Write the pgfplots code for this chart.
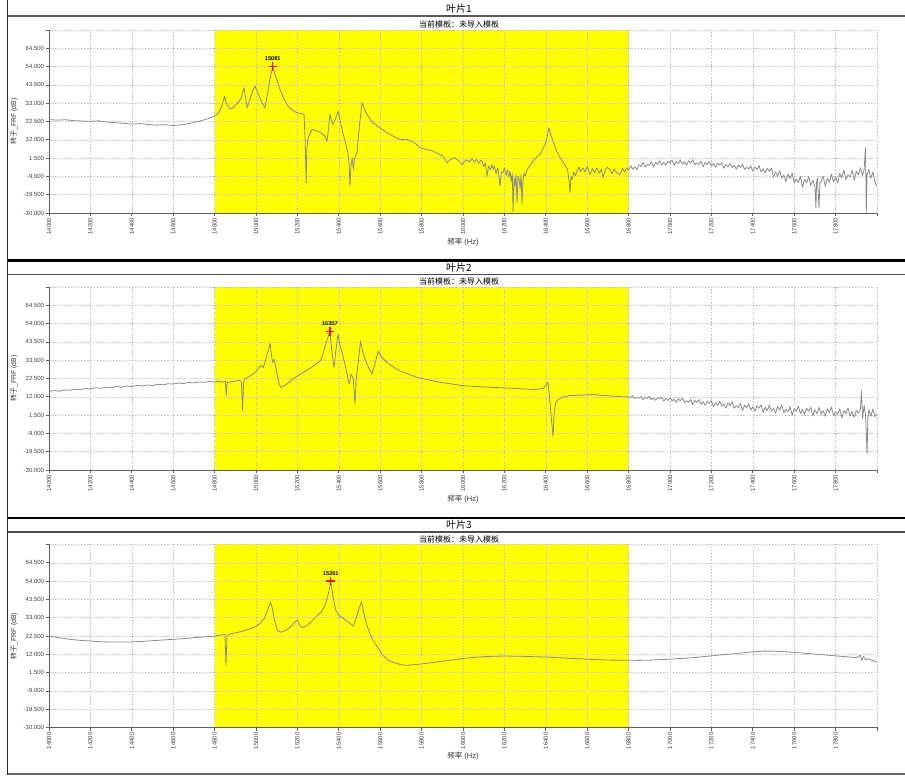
\documentclass[border=0pt]{standalone}
\usepackage{pgfplots}
\pgfplotsset{compat=1.18}
\usepackage{fontspec}
\setmainfont{Liberation Sans}
\newfontfamily\cjk{Noto Sans CJK SC}

\definecolor{curve}{RGB}{138,138,138}
\definecolor{gridc}{RGB}{195,195,195}
\definecolor{axisc}{RGB}{95,95,95}
\definecolor{band}{RGB}{255,255,0}

\newcommand{\tickfont}{\fontsize{4.5}{5}\selectfont\color{black!75}}

\pgfplotsset{
  frfaxis/.style={
    scale only axis,
    width=621pt, height=137.25pt,
    anchor=south west,
    xmin=14000, xmax=18000, ymin=-30, ymax=75,
    axis lines*=left,
    set layers,
    scaled x ticks=false, scaled y ticks=false,
    xtick={14000,14200,...,18000},
    xticklabels={14000,14200,14400,14600,14800,15000,15200,15400,15600,15800,16000,16200,16400,16600,16800,17000,17200,17400,17600,17800,{}},
    ytick={-30,-19.5,-9,1.5,12,22.5,33,43.5,54,64.5,75},
    yticklabels={-30.000,-19.500,-9.000,1.500,12.000,22.500,33.000,43.500,54.000,64.500,{}},
    grid=major,
    major grid style={draw=gridc, line width=0.4pt, dash pattern=on 1.2pt off 1.2pt},
    axis line style={draw=axisc, line width=0.6pt},
    tick style={draw=axisc, line width=0.5pt},
    tick align=outside, major tick length=2.5pt,
    x tick label style={rotate=90, anchor=east, font=\tickfont, inner sep=1pt},
    y tick label style={font=\tickfont, inner sep=1pt},
    xlabel={{\cjk 频率} (Hz)},
    ylabel={{\cjk 转子}\_FRF (dB)},
    x label style={at={(axis description cs:0.5,0)}, anchor=center, yshift=-21.75pt,
      font=\fontsize{5.6}{6}\selectfont\color{black!80}},
    y label style={at={(axis description cs:-0.0423,0.5)}, anchor=center,
      font=\fontsize{5.2}{6}\selectfont\color{black!80}},
  },
  frfline/.style={draw=curve, line width=0.6pt, mark=none, line join=round},
  peakmark/.style={only marks, mark=+, mark size=3.2pt, color=red, mark options={draw=red, line width=0.9pt},
    point meta=explicit symbolic, nodes near coords,
    every node near coord/.style={font=\fontsize{4.2}{5}\selectfont\bfseries, text=black,
      anchor=south, inner sep=0pt, yshift=4pt}},
}

\begin{document}
\begin{tikzpicture}

% ---------- blade 1 ----------
\begin{axis}[frfaxis, at={(36.75pt,-159.75pt)}]
\begin{pgfonlayer}{axis background}
\fill[band] (axis cs:14800,-30) rectangle (axis cs:16800,75);
\end{pgfonlayer}
\addplot[frfline] coordinates {
(14000,23.6) (14040,23.3) (14080,23.5) (14120,23.0) (14160,22.8) (14200,22.6) (14240,22.9) (14280,22.2)
(14320,21.8) (14360,21.5) (14400,21.0) (14440,21.3) (14480,20.8) (14520,20.4) (14560,20.7) (14600,20.2)
(14640,20.6) (14680,21.4) (14720,22.5) (14760,23.8) (14790,25.0)
(14800,25.6) (14820,27.5) (14835,31.5) (14848,36.8) (14860,32) (14875,29.6) (14890,30.5) (14905,32.5)
(14920,34.2) (14930,36.5) (14942,41.8) (14950,36) (14957,30.4) (14970,35) (14985,40.5) (14995,42.8)
(15005,40) (15019,36.1) (15030,33) (15043,30.4) (15055,38) (15068,47) (15081,54.2) (15095,48.5)
(15116,40.9) (15135,35.5) (15155,31.3) (15175,29) (15198,27.5) (15222,27.1) (15232,26.5) (15238,10)
(15242,-12.7) (15245,5) (15250,12.2) (15260,15.5) (15271,17.9) (15285,17.5) (15300,16.9) (15320,15.5)
(15333,14.1) (15343,11.2) (15350,18) (15357,26.5) (15365,23) (15372,20.8) (15385,24.5) (15396,28.4)
(15408,22) (15420,16.0) (15435,9) (15444,4.5) (15450,-2) (15454,-14.6) (15459,-3) (15465,1.7)
(15470,-5.0) (15478,2) (15488,4.7) (15498,18) (15512,33.2) (15530,28) (15550,24) (15565,21.8)
(15600,18.8) (15633,16.0) (15665,14) (15696,12.2) (15725,12.3) (15754,11.2) (15775,9.5) (15792,7.4)
(15820,6.6) (15855,5.5) (15880,4.0) (15903,2.6) (15915,0.5) (15923,-1.2) (15940,0.8) (15961,1.7)
(15980,0) (15995,-2.2) (16015,0.5) (16030,-0.6) (16044,1.1)
(16055,-0.8) (16065,0.9) (16075,-1.5) (16085,0.2) (16092,-0.3) (16100,-3.5) (16108,-1.2) (16116,-8.9)
(16124,-3.0) (16132,-5.5) (16140,-2.2) (16145,-5.0) (16152,-3.2) (16160,-7.5) (16168,-4.0) (16174,-9.0)
(16179,-14.6) (16185,-6.5) (16193,-7.0) (16200,-4.2) (16208,-8.5) (16215,-5.2) (16222,-9.5) (16227,-6.0)
(16233,-12) (16238,-7) (16242,-29) (16247,-10) (16251,-14.6) (16256,-8) (16261,-24) (16266,-9)
(16271,-10.8) (16276,-16) (16281,-8) (16285,-25) (16290,-11) (16295,-7) (16300,-8.9) (16310,-5)
(16320,-3.5) (16330,-1.5) (16338,-0.3) (16350,1.5) (16360,2.5) (16372,3.6) (16385,6.5) (16396,9.3)
(16405,13) (16415,18.9) (16425,14.5) (16435,11.2) (16450,6) (16469,1.7) (16485,-1) (16495,-3.1)
(16505,-5) (16512,-11) (16517,-18.4) (16522,-9) (16527,-10.8) (16535,-6.5) (16543,-8.5) (16551,-6.0)
(16560,-3.5) (16568,-6.2) (16580,-4.1) (16590,-6.5) (16600,-3.2) (16614,-7.9) (16625,-4.5) (16635,-6.8)
(16647,-4.1) (16658,-7.2) (16668,-5) (16676,-9.8) (16686,-5.5) (16697,-3.8) (16710,-5.0) (16720,-7.4)
(16730,-4.8) (16740,-6.6) (16758,-7.9) (16770,-4.3) (16780,-6.5) (16792,-4.1) (16800,-5.5)
(16810,-2.85) (16820,-4.9) (16830,-3.45) (16840,-5.1) (16850,-2.25) (16860,-3.3) (16870,-1.05) (16880,-3.7)
(16890,-2.15) (16900,-2.7) (16910,-0.7) (16920,-3.6) (16930,-1.0) (16940,-2.0) (16950,0.0) (16960,-2.5)
(16970,-0.9) (16980,-2.6) (16990,-0.2) (17000,-1.1) (17010,0.3) (17020,-2.7) (17030,-0.5) (17040,-1.8)
(17050,0.4) (17060,-1.9) (17070,-0.7) (17080,-2.6) (17090,0.0) (17100,-1.3) (17110,0.6) (17120,-2.4)
(17130,-1.2) (17140,-2.1) (17150,-0.3) (17160,-3.4) (17170,-1.0) (17180,-2.2) (17190,-0.4) (17200,-3.1)
(17210,-1.7) (17220,-3.6) (17230,-1.4) (17240,-2.5) (17250,-1.2) (17260,-4.3) (17270,-2.2) (17280,-3.6)
(17290,-1.5) (17300,-3.9) (17310,-2.8) (17320,-4.9) (17330,-2.4) (17340,-3.8) (17350,-2.0) (17360,-5.0)
(17370,-3.8) (17380,-4.7) (17390,-3.0) (17400,-6.1) (17410,-3.6) (17420,-5.1) (17430,-2.8) (17440,-6.4)
(17450,-4.6) (17460,-7.1) (17470,-4.3) (17480,-6.1) (17490,-4.2) (17500,-9.5) (17510,-6.4) (17520,-8.9)
(17530,-5.8) (17540,-10.0) (17550,-8.2) (17560,-12.0) (17570,-7.6) (17580,-10.3) (17590,-7.0) (17600,-12.7)
(17610,-10.6) (17620,-12.5) (17630,-9.0) (17640,-15.3) (17650,-10.6) (17660,-12.8) (17670,-9.0) (17680,-14.2)
(17690,-11.2) (17700,-14.8) (17705,-27.0) (17708,-12.0) (17712,-10.2) (17720,-27.0) (17724,-12.5) (17730,-11.95)
(17740,-8.9) (17750,-14.65) (17760,-10.0) (17770,-12.35) (17780,-7.7) (17790,-12.0) (17800,-9.3) (17810,-12.8)
(17820,-7.4) (17830,-9.7) (17840,-5.4) (17850,-10.9) (17860,-8.1) (17870,-9.5) (17880,-5.5) (17890,-11.2)
(17900,-6.0) (17910,-8.0) (17920,-4.0) (17930,-8.5) (17938,-5.0) (17944,7.4) (17946,-6.0) (17948,-30.0)
(17952,-8.0) (17960,-5.0) (17970,-10.0) (17980,-6.5) (17990,-12.0) (18000,-14.6)
};
\addplot[peakmark] coordinates {(15081,54.2) [15081]};
\end{axis}

% ---------- blade 2 ----------
\begin{axis}[frfaxis, at={(36.75pt,-352.5pt)}]
\begin{pgfonlayer}{axis background}
\fill[band] (axis cs:14800,-30) rectangle (axis cs:16800,75);
\end{pgfonlayer}
\addplot[frfline] coordinates {
(14000,15.0) (14025,15.6) (14050,15.2) (14075,16.0) (14100,15.7) (14125,16.4) (14150,16.0) (14175,16.8)
(14200,16.5) (14225,17.2) (14250,16.9) (14275,17.6) (14300,17.3) (14325,17.9) (14350,17.5) (14375,18.2)
(14400,17.9) (14425,18.5) (14450,18.2) (14475,18.8) (14500,18.5) (14525,19.2) (14550,18.9) (14575,19.5)
(14600,19.3) (14625,19.9) (14650,19.6) (14675,20.2) (14700,20.0) (14725,20.5) (14750,20.3) (14775,20.8)
(14800,20.6)
(14820,20.9) (14840,20.4) (14852,20.8) (14856,12.7) (14860,20.2) (14880,20.6) (14900,21.0) (14920,21.5)
(14930,20.5) (14935,4.2) (14940,20.0) (14945,22.2) (14965,23.5) (14985,25.1) (15000,26.5) (15015,28.8)
(15025,29.8) (15035,28.8) (15045,32.5) (15058,38.0) (15068,42.7) (15075,36) (15080,31.7) (15088,33.6)
(15100,26) (15110,20) (15120,17.4) (15135,18.2) (15150,19.4) (15180,22.5) (15210,24.5) (15240,26.9)
(15270,29.0) (15290,30.8) (15305,32.0) (15315,33.5) (15325,37.4) (15340,43.5) (15357,49.6) (15365,40)
(15372,33) (15378,28.8) (15385,38) (15396,47.8) (15405,42) (15420,35.5) (15435,28) (15445,22)
(15451,19.4) (15460,25.1) (15470,22) (15478,8.0) (15484,22.2) (15495,33) (15505,44.0) (15515,38)
(15530,32.6) (15545,28.5) (15560,25.1) (15575,31) (15590,38.3) (15605,35) (15633,31.7) (15665,29)
(15696,26.9) (15740,24.8) (15780,23.1) (15830,21.8) (15890,20.3) (15950,19.3) (16000,18.4) (16050,18.0)
(16100,17.7) (16150,17.4) (16200,17.1) (16250,16.8) (16300,16.5) (16350,16.2) (16390,17.0) (16405,19.5)
(16410,20.3) (16418,12) (16428,-2) (16435,-10.6) (16440,2) (16447,8.5) (16455,9.9) (16480,11.8)
(16517,12.7) (16560,12.9) (16628,13.3) (16700,12.6) (16750,12.2) (16800,11.9)
(16810,11.68) (16820,12.66) (16830,11.04) (16840,11.68) (16850,11.15) (16860,12.19) (16870,10.32) (16880,11.77)
(16890,11.02) (16900,12.18) (16910,10.4) (16920,11.33) (16930,10.02) (16940,11.56) (16950,10.78) (16960,11.74)
(16970,9.43) (16980,11.03) (16990,9.94) (17000,11.62) (17010,9.66) (17020,10.53) (17030,8.82) (17040,10.92)
(17050,9.69) (17060,11.35) (17070,8.64) (17080,9.71) (17090,8.86) (17100,10.54) (17110,7.55) (17120,9.87)
(17130,8.67) (17140,10.48) (17150,7.72) (17160,9.16) (17170,7.15) (17180,9.48) (17190,8.3) (17200,9.73)
(17210,6.28) (17220,8.62) (17230,7.01) (17240,9.42) (17250,6.62) (17260,7.91) (17270,5.5) (17280,8.52)
(17290,6.81) (17300,9.18) (17310,5.41) (17320,6.93) (17330,5.77) (17340,8.12) (17350,4.04) (17360,7.24)
(17370,5.64) (17380,8.11) (17390,4.41) (17400,6.36) (17410,3.75) (17420,6.93) (17430,5.44) (17440,7.37)
(17450,2.97) (17460,6.08) (17470,4.1) (17480,7.27) (17490,3.79) (17500,5.5) (17510,2.56) (17520,6.42)
(17530,4.37) (17540,7.37) (17550,2.82) (17560,4.76) (17570,3.43) (17580,6.35) (17590,1.52) (17600,5.42)
(17610,3.61) (17620,6.6) (17630,2.36) (17640,4.73) (17650,1.75) (17660,5.44) (17670,3.76) (17680,5.99)
(17690,1.01) (17700,4.58) (17710,2.38) (17720,5.96) (17730,2.09) (17740,4.03) (17750,0.8) (17760,5.1)
(17770,2.86) (17780,6.18) (17790,1.23) (17800,3.37) (17810,1.97) (17820,5.16) (17830,-0.02) (17840,4.22)
(17850,2.29) (17860,5.53) (17870,0.98) (17880,3.54) (17890,0.36) (17900,4.33) (17910,2.53) (17920,4.95)
(17925,15.5) (17930,-0.4) (17938,7.0) (17945,1.0) (17952,-20.5) (17956,0.5) (17960,4.5) (17970,0.8)
(17980,5.0) (17990,0.5) (18000,2.3)
};
\addplot[peakmark] coordinates {(15357,49.6) [15357]};
\end{axis}

% ---------- blade 3 ----------
\begin{axis}[frfaxis, at={(36.75pt,-545.6pt)}]
\begin{pgfonlayer}{axis background}
\fill[band] (axis cs:14800,-30) rectangle (axis cs:16800,75);
\end{pgfonlayer}
\addplot[frfline] coordinates {
(14000,22.4) (14050,21.5) (14100,20.6) (14150,20.0) (14200,19.6) (14250,19.2) (14300,19.0) (14350,19.0)
(14400,19.1) (14450,19.4) (14500,19.8) (14550,20.2) (14600,20.6) (14650,21.0) (14700,21.5) (14750,22.0)
(14800,22.4)
(14820,22.8) (14840,23.2) (14850,23.4) (14855,5.7) (14860,23.0) (14880,23.8) (14900,24.3) (14925,24.9)
(14950,25.8) (14975,26.8) (15000,28.0) (15020,29.8) (15040,32.5) (15055,37) (15070,42.0) (15080,38)
(15090,31) (15105,25.5) (15120,24.7) (15140,25.5) (15160,27.0) (15180,29.5) (15200,31.7) (15212,28.5)
(15225,27.3) (15245,28.5) (15265,30.5) (15290,33.5) (15315,36.3) (15335,40.3) (15350,47) (15361,54.0)
(15372,45) (15385,37.4) (15400,34.5) (15420,32.8) (15445,30.5) (15470,28.2) (15485,33) (15500,39)
(15510,42.0) (15520,36) (15535,28.8) (15550,24) (15565,20.1) (15590,15.5) (15612,11.5) (15640,8.5)
(15660,7.5) (15700,6.0) (15730,5.7) (15760,6.0) (15800,6.5) (15850,7.2) (15900,8.0) (15950,8.8)
(16000,9.6) (16050,10.2) (16100,10.6) (16150,10.9) (16200,11.0) (16250,10.9) (16300,10.8) (16350,10.6)
(16400,10.4) (16450,10.1) (16500,9.8) (16550,9.5) (16600,9.2) (16650,8.9) (16700,8.7) (16750,8.6)
(16800,8.6)
(16850,8.5) (16900,8.6) (16950,8.9) (17000,9.2) (17050,9.6) (17100,9.9) (17150,10.5) (17200,11.1)
(17250,11.7) (17300,12.2) (17350,12.8) (17400,13.4) (17450,13.8) (17500,13.8) (17550,13.5) (17600,13.1)
(17650,12.6) (17700,12.1) (17750,11.6) (17800,11.1) (17850,10.6) (17900,10.1) (17920,11.5) (17925,8.5)
(17935,10.8) (17945,8.8) (17960,9.4) (17980,8.4) (18000,7.5)
};
\addplot[peakmark] coordinates {(15361,54.0) [15361]};
\end{axis}

% ---------- frame of the report (1 unit = one pixel column/row) ----------
\begin{scope}[x=0.75pt, y=-0.75pt]
\draw[black!85, line width=1pt] (7.5,0) -- (7.5,775);
\draw[black!65, line width=1.3pt] (7.5,16) -- (905,16);
\draw[black, line width=2.2pt] (7.5,260.5) -- (905,260.5);
\draw[black!70, line width=0.9pt] (7.5,274.5) -- (905,274.5);
\draw[black, line width=2.2pt] (7.5,518) -- (905,518);
\draw[black!70, line width=0.9pt] (7.5,532) -- (905,532);
\draw[black!60, line width=0.9pt] (7.5,774) -- (905,774);

\node[font=\cjk\fontsize{7.5}{8}\selectfont] at (459,8.5) {叶片1};
\node[font=\cjk\fontsize{6}{7}\selectfont] at (459,24) {当前模板：未导入模板};
\node[font=\cjk\fontsize{7.5}{8}\selectfont] at (459,267.5) {叶片2};
\node[font=\cjk\fontsize{6}{7}\selectfont] at (459,281) {当前模板：未导入模板};
\node[font=\cjk\fontsize{7.5}{8}\selectfont] at (459,525) {叶片3};
\node[font=\cjk\fontsize{6}{7}\selectfont] at (459,539) {当前模板：未导入模板};

\pgfresetboundingbox
\path[use as bounding box] (0,0) rectangle (905,775);
\end{scope}
\end{tikzpicture}
\end{document}
